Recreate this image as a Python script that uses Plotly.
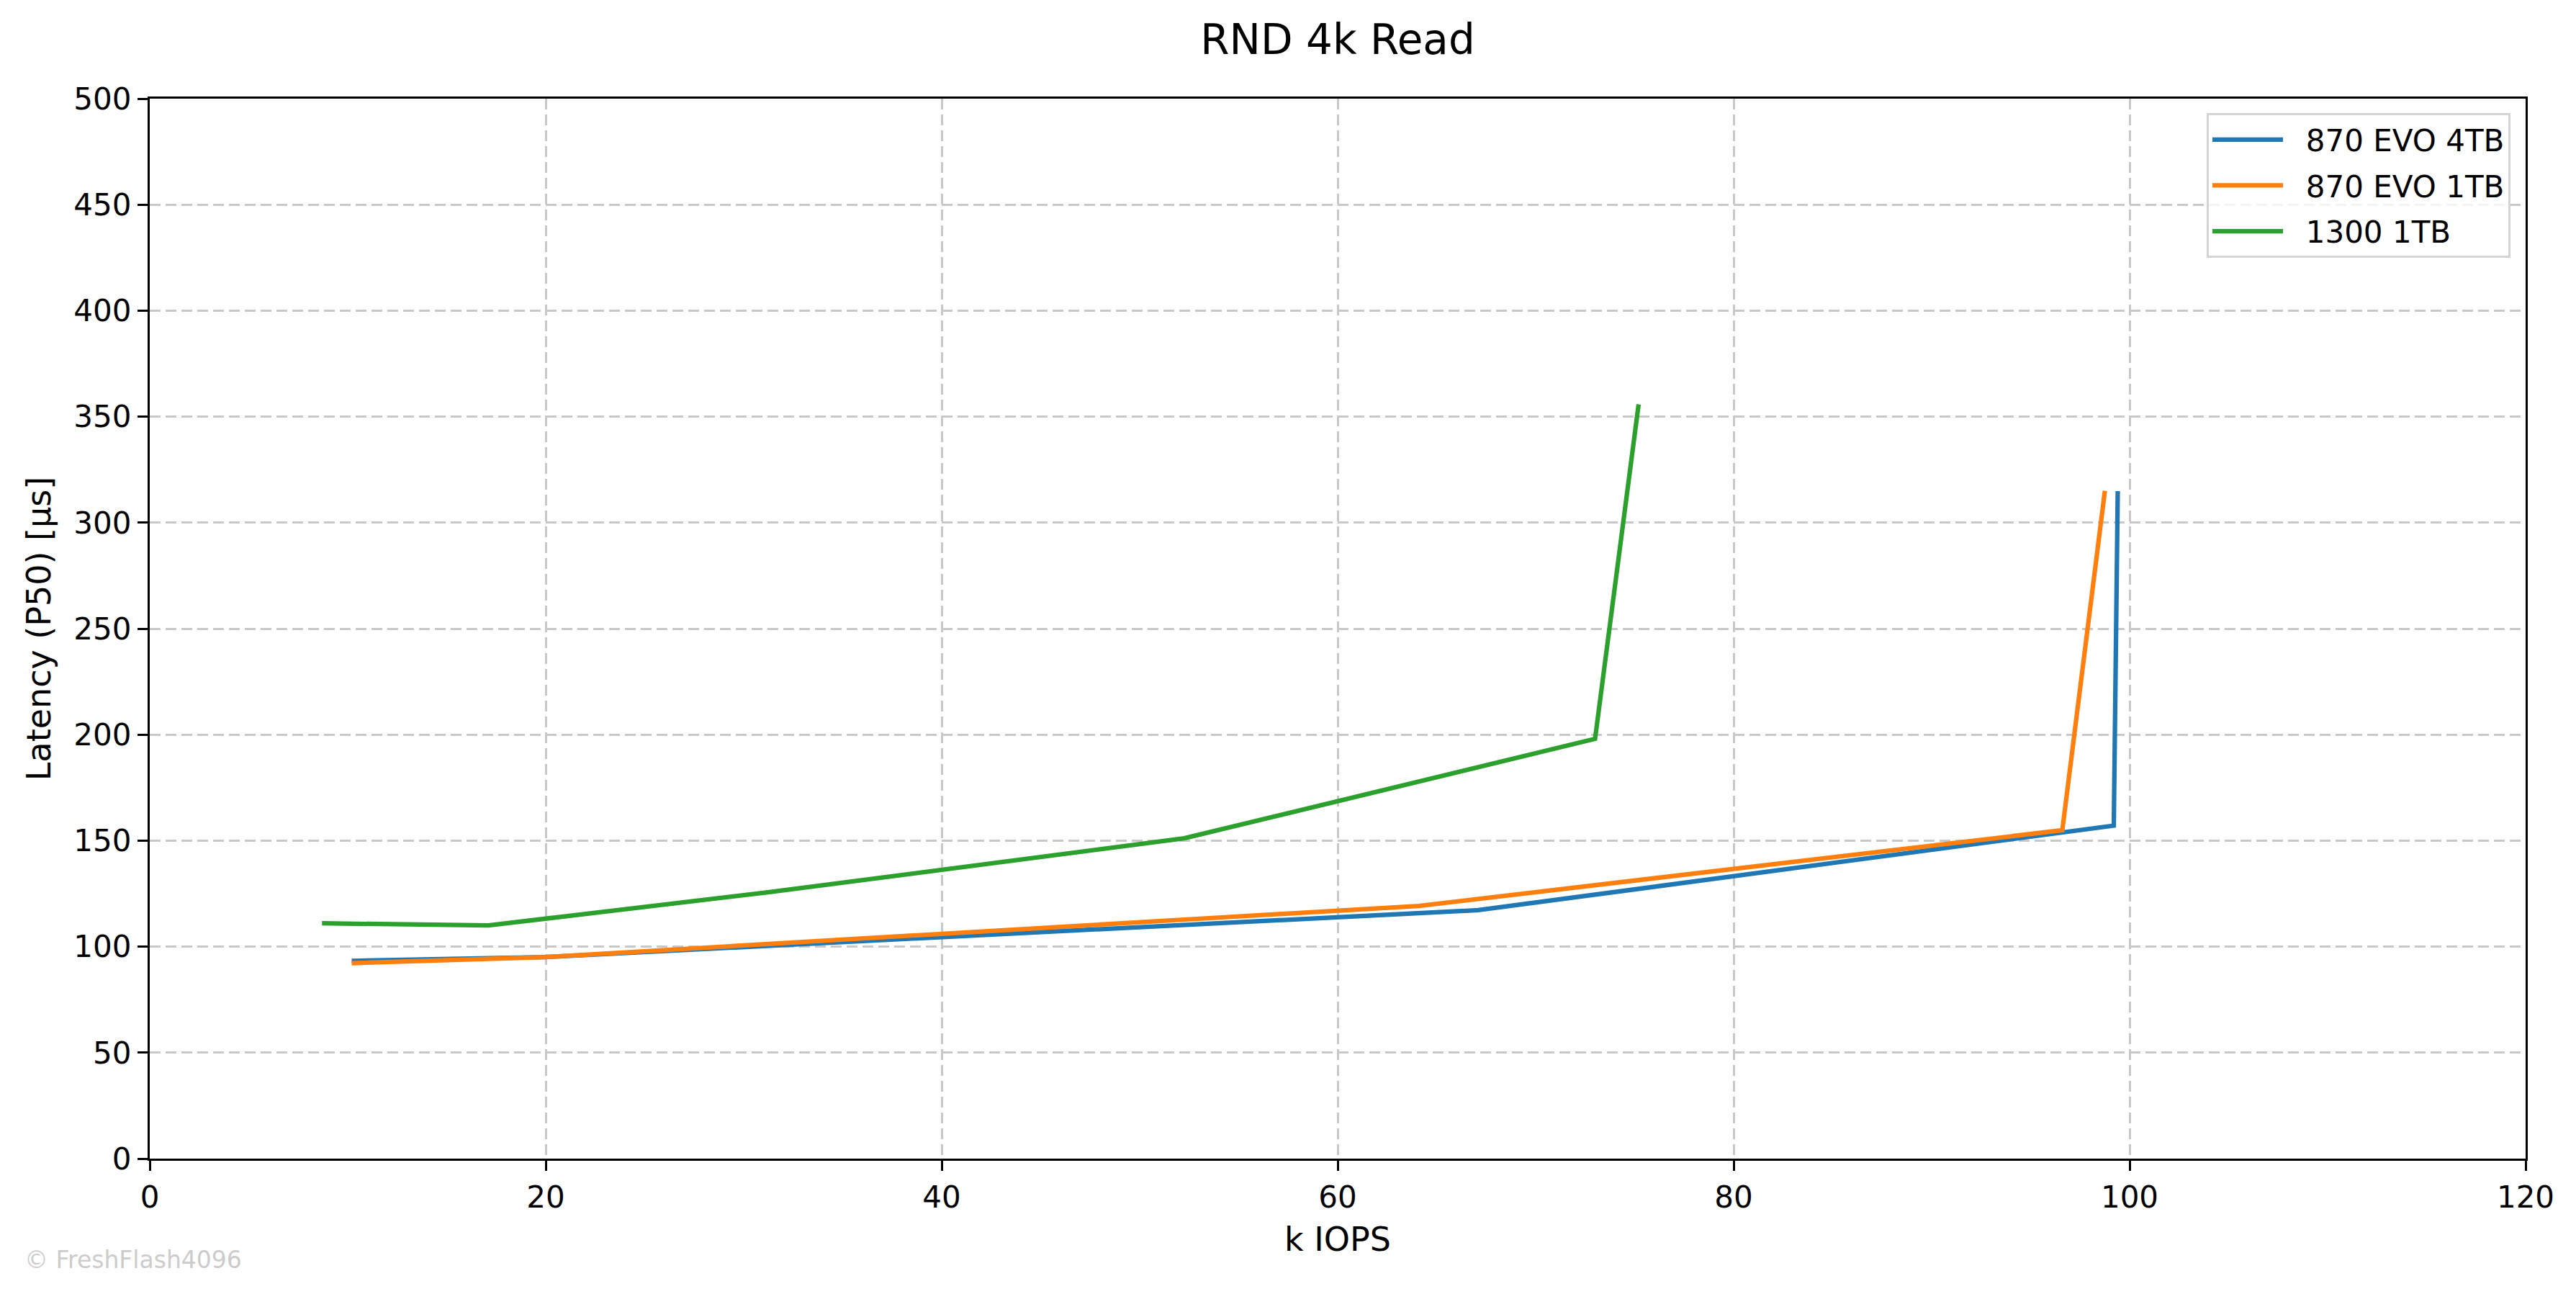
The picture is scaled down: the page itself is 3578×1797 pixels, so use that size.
import plotly.graph_objects as go

# (k IOPS vs P50 latency in us)
evo4_iops = [10.2, 20.0, 67.1, 99.2, 99.4]
evo4_lat = [93.3, 95.1, 117.2, 157.1, 314.9]

evo1_iops = [10.2, 20.0, 64.1, 96.6, 98.75]
evo1_lat = [92.2, 95.1, 119.2, 154.9, 315.0]

wd1300_iops = [8.7, 17.1, 31.3, 52.25, 73.0, 75.2]
wd1300_lat = [111.0, 110.0, 125.7, 151.1, 198.0, 355.8]

series_names = ['870 EVO 4TB', '870 EVO 1TB', '1300 1TB']
series_colors = ['#1f77b4', '#ff7f0e', '#2ca02c']

x_ticks = [0, 20, 40, 60, 80, 100, 120]
y_ticks = [0, 50, 100, 150, 200, 250, 300, 350, 400, 450, 500]

W, H = 3578, 1797
FONT = 'DejaVu Sans'
# the page puts the figure ~8px in from the top-left corner
ML, MR, MT, MB = 200, 78, 129, 196
PW, PH = W - ML - MR, H - MT - MB

fig = go.Figure()
for name, xs, ys, col in zip(series_names,
                             [evo4_iops, evo1_iops, wd1300_iops],
                             [evo4_lat, evo1_lat, wd1300_lat],
                             series_colors):
    # leading nbsp gives the gap between swatch and label like matplotlib
    fig.add_trace(go.Scatter(x=xs, y=ys, name='\u00a0\u00a0' + name, mode='lines',
                             legendgroup=name,
                             line=dict(color=col, width=6.25)))

axis_common = dict(
    showline=True, linecolor='black', linewidth=3.3, mirror=True,
    ticks='outside', ticklen=14, tickwidth=3.3, tickcolor='black',
    showgrid=True, gridcolor='#c8c8c8', gridwidth=3, griddash='15px,7px',
    zeroline=False, tickfont=dict(size=42, color='black', family=FONT),
)

fig.update_xaxes(range=[0, 120], tickvals=x_ticks, **axis_common,
                 title=dict(text='k IOPS', font=dict(size=46, family=FONT, color='black'), standoff=20))
fig.update_yaxes(range=[0, 500], tickvals=y_ticks, **axis_common,
                 title=dict(text='Latency (P50) [µs]', font=dict(size=46, family=FONT, color='black'), standoff=18))

fig.update_layout(
    width=W, height=H,
    paper_bgcolor='white',
    plot_bgcolor='white',
    margin=dict(l=ML, r=MR, t=MT, b=MB),
    title=dict(text='RND 4k Read', xref='paper', x=0.5, xanchor='center',
               y=1 - 47 / H, yanchor='middle',
               font=dict(size=58, family=FONT, color='black')),
    font=dict(family=FONT, color='black'),
    legend=dict(x=1 - 21 / PW, y=1 - 20 / PH, xanchor='right', yanchor='top',
                bgcolor='rgba(255,255,255,0.8)', bordercolor='#d4d4d4', borderwidth=3,
                font=dict(size=42, family=FONT, color='black'),
                itemwidth=98, tracegroupgap=6),
    showlegend=True,
)

# watermark, bottom left of the page
fig.add_annotation(text='© FreshFlash4096', xref='paper', yref='paper',
                   x=-(ML - 24) / PW, y=-(1742 - (H - MB)) / PH,
                   xanchor='left', yanchor='middle', showarrow=False,
                   font=dict(size=33, family=FONT, color='#cccccc'))

fig.write_html('out.html')
